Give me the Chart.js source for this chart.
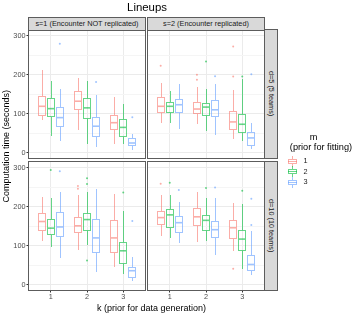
<!DOCTYPE html>
<html><head><meta charset="utf-8">
<script src="https://cdn.jsdelivr.net/npm/chart.js@4.4.1/dist/chart.umd.min.js"></script>
<style>
html,body{margin:0;padding:0;background:#fff;}
#wrap{position:relative;width:360px;height:315px;overflow:hidden;background:#fff;font-family:'Liberation Sans',Arial,sans-serif;}
canvas{position:absolute;left:0;top:0;}
.t{position:absolute;white-space:nowrap;line-height:1;transform:translate(-50%,-50%);}
.strip{position:absolute;background:#D9D9D9;border:1px solid #5C5C5C;box-sizing:border-box;color:#1A1A1A;font-size:7.3px;display:flex;align-items:center;justify-content:center;white-space:nowrap;line-height:1;}
.vs span{writing-mode:vertical-rl;}
.key{position:absolute;width:9px;height:11px;}
.key .w{position:absolute;left:4px;top:0;width:1px;height:11px;}
.key .b{position:absolute;left:0;top:3px;width:9px;height:5px;box-sizing:border-box;background:#fff;}
.key .md{position:absolute;left:0;top:5px;width:9px;height:1px;}
#ytitle{position:absolute;left:1px;top:0;height:292px;width:10px;display:flex;align-items:center;justify-content:center;}
#ytitle span{writing-mode:vertical-rl;transform:rotate(180deg);white-space:nowrap;line-height:1;font-size:9px;color:#000;}
</style></head>
<body><div id="wrap">
<canvas id="c0" width="360" height="315"></canvas>
<canvas id="c1" width="360" height="315"></canvas>
<canvas id="c2" width="360" height="315"></canvas>
<canvas id="c3" width="360" height="315"></canvas>
</div>
<script>
// ---------- data ----------
const kValues = [1, 2, 3];
const kLabels = ['1', '2', '3'];
const mLabels = ['1', '2', '3'];
const sLabels = ['s=1 (Encounter NOT replicated)', 's=2 (Encounter replicated)'];
const dLabels = ['d=5 (5 teams)', 'd=10 (10 teams)'];
const yTickValues = [0, 50, 100, 150, 200, 250, 300];
const yTickLabels = ['0', '', '100', '', '200', '', '300'];
const titleText = 'Lineups';
const xTitle = 'k (prior for data generation)';
const yTitle = 'Computation time (seconds)';
const legendTitle1 = 'm';
const legendTitle2 = '(prior for fitting)';

// rows = m (1,2,3), columns = k (1,2,3)
const s1d5Lower  = [[85, 59, 22], [42, 22, 22], [29, 15, 8]];
const s1d5Q1     = [[96, 111, 62], [93, 89, 44], [68, 44, 21]];
const s1d5Median = [[119, 132, 77], [113, 115, 65], [90, 68, 25]];
const s1d5Q3     = [[146, 157, 98], [140, 140, 86], [118, 92, 37]];
const s1d5Upper  = [[212, 192, 143], [183, 185, 124], [164, 147, 48]];
const s1d5Out    = [[], [], [[1, 279], [2, 181], [3, 91]]];

const s2d5Lower  = [[76, 73, 36], [75, 55, 31], [62, 46, 10]];
const s2d5Q1     = [[105, 101, 62], [105, 96, 54], [104, 95, 21]];
const s2d5Median = [[119, 112, 79], [119, 117, 73], [123, 110, 38]];
const s2d5Q3     = [[144, 131, 108], [131, 128, 100], [138, 134, 53]];
const s2d5Upper  = [[178, 168, 161], [158, 163, 190], [175, 176, 75]];
const s2d5Out    = [[[1, 223], [2, 200], [2, 187], [3, 272], [3, 195]], [[2, 234], [3, 195]], [[2, 196], [3, 201]]];

const s1d10Lower  = [[112, 90, 45], [96, 103, 28], [69, 33, 9]];
const s1d10Q1     = [[141, 135, 84], [131, 141, 56], [124, 83, 21]];
const s1d10Median = [[162, 151, 120], [145, 167, 87], [148, 120, 36]];
const s1d10Q3     = [[184, 174, 166], [169, 184, 110], [187, 168, 45]];
const s1d10Upper  = [[225, 229, 232], [223, 237, 188], [238, 244, 72]];
const s1d10Out    = [[[2, 253], [2, 246]], [[1, 294], [2, 273], [2, 258], [2, 62], [3, 236]], [[1, 291], [3, 163]]];

const s2d10Lower  = [[124, 110, 87], [120, 113, 40], [107, 75, 26]];
const s2d10Q1     = [[155, 153, 121], [148, 141, 88], [135, 123, 39]];
const s2d10Median = [[172, 174, 146], [179, 165, 117], [159, 141, 52]];
const s2d10Q3     = [[189, 197, 166], [193, 179, 141], [177, 164, 76]];
const s2d10Upper  = [[231, 238, 210], [230, 222, 206], [211, 222, 137]];
const s2d10Out    = [[[1, 259], [3, 41]], [[1, 261], [2, 248], [3, 241]], [[1, 243], [2, 249], [3, 220], [3, 153]]];

// ---------- styling / layout ----------
const mColors = ['rgba(248,118,109,0.6)', 'rgba(0,186,56,0.6)', 'rgba(97,156,255,0.6)'];
const dodge = [-0.25, 0, 0.25];
const boxWidth = 0.23;
const colX = [[29, 145], [148, 264]];
const rowY = [[30, 158], [162, 290]];
const yMin = -13.4, yMax = 314.4;
const FONT = "'Liberation Sans', Arial, sans-serif";
Chart.defaults.font.family = FONT;

const panels = [
  {id: 'c0', col: 0, row: 0, lo: s1d5Lower, q1: s1d5Q1, med: s1d5Median, q3: s1d5Q3, hi: s1d5Upper, out: s1d5Out},
  {id: 'c1', col: 1, row: 0, lo: s2d5Lower, q1: s2d5Q1, med: s2d5Median, q3: s2d5Q3, hi: s2d5Upper, out: s2d5Out},
  {id: 'c2', col: 0, row: 1, lo: s1d10Lower, q1: s1d10Q1, med: s1d10Median, q3: s1d10Q3, hi: s1d10Upper, out: s1d10Out},
  {id: 'c3', col: 1, row: 1, lo: s2d10Lower, q1: s2d10Q1, med: s2d10Median, q3: s2d10Q3, hi: s2d10Upper, out: s2d10Out}
];

function makeBoxPlugin(p) {
  return {
    id: 'boxes',
    beforeDatasetsDraw(chart) {
      const xs = chart.scales.x, ys = chart.scales.y, ctx = chart.ctx, a = chart.chartArea;
      ctx.save();
      ctx.beginPath(); ctx.rect(a.left, a.top, a.right - a.left, a.bottom - a.top); ctx.clip();
      const hw = (xs.getPixelForValue(boxWidth) - xs.getPixelForValue(0)) / 2;
      for (let m = 0; m < mLabels.length; m++) {
        for (let k = 0; k < kValues.length; k++) {
          const xc = xs.getPixelForValue(kValues[k] + dodge[m]);
          const xr = Math.round(xc) + 0.5;
          const yL = Math.round(ys.getPixelForValue(p.lo[m][k]));
          const y1 = Math.round(ys.getPixelForValue(p.q1[m][k]));
          const yM = ys.getPixelForValue(p.med[m][k]);
          const y3 = Math.round(ys.getPixelForValue(p.q3[m][k]));
          const yU = Math.round(ys.getPixelForValue(p.hi[m][k]));
          const x0 = Math.round(xc - hw) + 0.5, x1 = Math.round(xc + hw) - 0.5;
          ctx.strokeStyle = mColors[m];
          ctx.lineWidth = 1;
          ctx.beginPath();
          ctx.moveTo(xr, yU); ctx.lineTo(xr, y3);
          ctx.moveTo(xr, y1 + 1); ctx.lineTo(xr, yL);
          ctx.stroke();
          ctx.strokeRect(x0, y3 + 0.5, x1 - x0, y1 - y3);
          ctx.lineWidth = 1.6;
          ctx.beginPath();
          ctx.moveTo(x0 + 0.5, yM); ctx.lineTo(x1 - 0.5, yM);
          ctx.stroke();
        }
      }
      ctx.restore();
    },
    afterDraw(chart) {
      const a = chart.chartArea, ctx = chart.ctx;
      ctx.save();
      ctx.strokeStyle = '#5C5C5C';
      ctx.lineWidth = 1;
      ctx.strokeRect(a.left - 0.5, a.top - 0.5, a.right - a.left + 1, a.bottom - a.top + 1);
      ctx.restore();
    }
  };
}

panels.forEach(p => {
  const showX = p.row === 1, showY = p.col === 0;
  const yW = showY ? 29 : 0;
  const xH = showX ? 12 : 0;
  const [l, r] = colX[p.col];
  const [t, b] = rowY[p.row];
  new Chart(document.getElementById(p.id), {
    type: 'scatter',
    data: {
      datasets: mLabels.map((lab, m) => ({
        label: lab,
        data: p.out[m].map(([k, v]) => ({x: k + dodge[m], y: v})),
        pointRadius: 1,
        pointHoverRadius: 1,
        pointBackgroundColor: mColors[m],
        pointBorderWidth: 0
      }))
    },
    options: {
      responsive: false, animation: false, devicePixelRatio: 1, events: [],
      layout: {padding: {left: l - yW, top: t, right: 360 - r, bottom: 315 - b - xH}},
      plugins: {legend: {display: false}, tooltip: {enabled: false}},
      scales: {
        x: {
          type: 'linear', min: 0.4, max: 3.6,
          afterBuildTicks: s => { s.ticks = kValues.map(v => ({value: v})); },
          afterFit: s => { s.height = xH; },
          border: {display: false},
          grid: {color: '#EBEBEB', tickColor: '#333333', tickLength: 2.5, drawTicks: showX},
          ticks: {display: showX, autoSkip: false, maxRotation: 0, padding: 0,
                  color: '#4D4D4D', font: {size: 7.3},
                  callback: v => { const i = kValues.indexOf(v); return i >= 0 ? kLabels[i] : ''; }}
        },
        y: {
          type: 'linear', min: yMin, max: yMax,
          afterBuildTicks: s => { s.ticks = yTickValues.map(v => ({value: v})); },
          afterFit: s => { s.width = yW; },
          border: {display: false},
          grid: {
            color: c => (c.tick && c.tick.value % 100 === 0) ? '#EBEBEB' : '#F5F5F5',
            tickColor: c => (c.tick && c.tick.value % 100 === 0) ? '#333333' : 'rgba(0,0,0,0)',
            tickLength: 2.5, drawTicks: showY
          },
          ticks: {display: showY, autoSkip: false, padding: 1, color: '#4D4D4D', font: {size: 7.3},
                  callback: v => { const i = yTickValues.indexOf(v); return i >= 0 ? yTickLabels[i] : ''; }}
        }
      }
    },
    plugins: [makeBoxPlugin(p)]
  });
});

// ---------- text elements ----------
const wrap = document.getElementById('wrap');
function addText(txt, x, y, size, color, extra) {
  const d = document.createElement('div');
  d.className = 't';
  d.textContent = txt;
  d.style.left = x + 'px'; d.style.top = y + 'px';
  d.style.fontSize = size + 'px'; d.style.color = color;
  if (extra) Object.assign(d.style, extra);
  wrap.appendChild(d);
  return d;
}
addText(titleText, 147, 8, 11.4, '#000');
addText(xTitle, 151.5, 308, 9, '#000');
const yt = document.createElement('div');
yt.id = 'ytitle';
const yts = document.createElement('span');
yts.textContent = yTitle;
yt.appendChild(yts);
wrap.appendChild(yt);

sLabels.forEach((s, i) => {
  const d = document.createElement('div');
  d.className = 'strip';
  d.style.left = (colX[i][0] - 1) + 'px'; d.style.top = '17px';
  d.style.width = (colX[i][1] - colX[i][0] + 2) + 'px'; d.style.height = '14px';
  d.textContent = s;
  wrap.appendChild(d);
});
dLabels.forEach((s, i) => {
  const d = document.createElement('div');
  d.className = 'strip vs';
  d.style.left = '264px'; d.style.top = (rowY[i][0] - 1) + 'px';
  d.style.width = '14px'; d.style.height = (rowY[i][1] - rowY[i][0] + 2) + 'px';
  const sp = document.createElement('span'); sp.textContent = s;
  d.appendChild(sp);
  wrap.appendChild(d);
});

// legend
addText(legendTitle1, 313.5, 137.5, 9.2, '#000');
addText(legendTitle2, 321, 147.5, 9.2, '#000');
mLabels.forEach((lab, m) => {
  const cy = 161 + m * 10.7;
  const key = document.createElement('div');
  key.className = 'key';
  key.style.left = '288px'; key.style.top = (cy - 5.5) + 'px';
  key.innerHTML = '<div class="w"></div><div class="b"></div><div class="md"></div>';
  key.querySelector('.w').style.background = mColors[m];
  key.querySelector('.b').style.border = '1px solid ' + mColors[m];
  key.querySelector('.md').style.background = mColors[m];
  wrap.appendChild(key);
  addText(lab, 305.5, cy, 7.3, '#1A1A1A');
});
</script>
</body></html>
